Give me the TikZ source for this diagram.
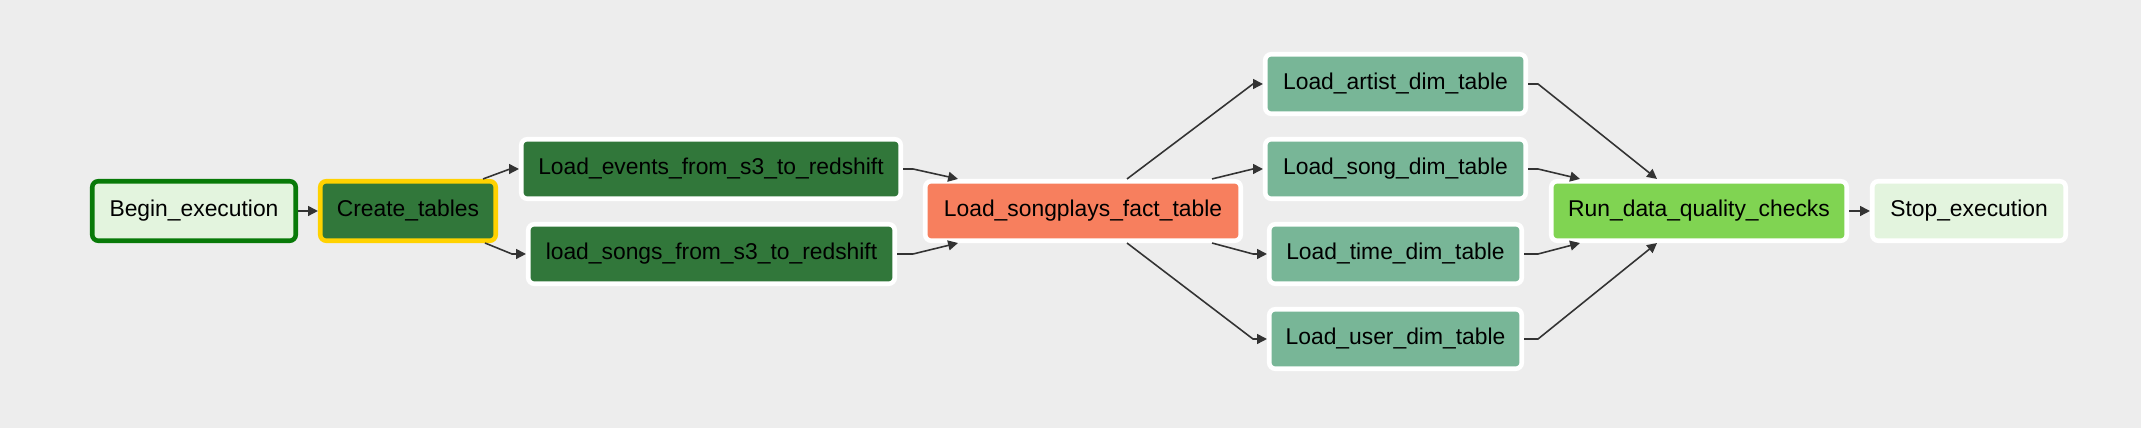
\documentclass[tikz,border=0pt]{standalone}
\usepackage{fontspec}
\setmainfont{Liberation Sans}
\usepackage{tikz}
\usetikzlibrary{arrows.meta, backgrounds}
\usepackage{xcolor}

\definecolor{bggray}{HTML}{EDEDED}
\definecolor{edgegray}{HTML}{333333}
\definecolor{dummyfill}{HTML}{E3F4DE}
\definecolor{successgreen}{HTML}{087A08}
\definecolor{runningyellow}{HTML}{FFD200}
\definecolor{stagefill}{HTML}{31773A}
\definecolor{factfill}{HTML}{F77F5E}
\definecolor{dimfill}{HTML}{78B697}
\definecolor{checkfill}{HTML}{80D452}

\begin{document}
\begin{tikzpicture}[font=\fontsize{6.5}{7.8}\selectfont]
    % Background
    \fill[bggray] (0, 0) rectangle (21.41, 4.28);
    \useasboundingbox (0, 0) rectangle (21.41, 4.28);

    % Define styles for boxes and arrows
    \tikzstyle{task} = [rectangle, rounded corners=0.06cm, minimum height=0.595cm, inner sep=0pt, text centered, draw=white, line width=1.3pt]
    \tikzstyle{arrow} = [draw=edgegray, line width=0.45pt, ->, >={Triangle[length=2.8pt, width=2.8pt]}]

    % boxes
    \node (begin) [task, fill=dummyfill, draw=successgreen, minimum width=2.035cm] at (1.94, 2.17) {Begin\_execution};
    \node (create) [task, fill=stagefill, draw=runningyellow, minimum width=1.755cm] at (4.08, 2.17) {Create\_tables};
    \node (events) [task, fill=stagefill, minimum width=3.795cm] at (7.11, 2.59) {Load\_events\_from\_s3\_to\_redshift};
    \node (songs) [task, fill=stagefill, minimum width=3.665cm] at (7.115, 1.74) {load\_songs\_from\_s3\_to\_redshift};
    \node (fact) [task, fill=factfill, minimum width=3.155cm] at (10.83, 2.17) {Load\_songplays\_fact\_table};
    \node (artist) [task, fill=dimfill, minimum width=2.605cm] at (13.955, 3.44) {Load\_artist\_dim\_table};
    \node (song) [task, fill=dimfill, minimum width=2.605cm] at (13.955, 2.59) {Load\_song\_dim\_table};
    \node (time) [task, fill=dimfill, minimum width=2.525cm] at (13.955, 1.74) {Load\_time\_dim\_table};
    \node (user) [task, fill=dimfill, minimum width=2.525cm] at (13.955, 0.89) {Load\_user\_dim\_table};
    \node (checks) [task, fill=checkfill, minimum width=2.955cm] at (16.99, 2.17) {Run\_data\_quality\_checks};
    \node (stop) [task, fill=dummyfill, minimum width=1.935cm] at (19.69, 2.17) {Stop\_execution};

    % Arrows
    \draw [arrow] (begin) -- (create);
    \draw [arrow] ([xshift=-0.15cm]create.north east) -- ([xshift=-0.09cm]events.west) -- (events.west);
    \draw [arrow] ([xshift=-0.13cm]create.south east) -- ([xshift=-0.14cm]songs.west) -- (songs.west);
    \draw [arrow] (events.east) -- ([xshift=0.1cm]events.east) -- ([xshift=0.35cm]fact.north west);
    \draw [arrow] (songs.east) -- ([xshift=0.16cm]songs.east) -- ([xshift=0.35cm]fact.south west);
    \draw [arrow] ([xshift=0.44cm]fact.north) -- ([xshift=-0.1cm]artist.west) -- (artist.west);
    \draw [arrow] ([xshift=-0.31cm]fact.north east) -- ([xshift=-0.1cm]song.west) -- (song.west);
    \draw [arrow] ([xshift=-0.31cm]fact.south east) -- ([xshift=-0.14cm]time.west) -- (time.west);
    \draw [arrow] ([xshift=0.44cm]fact.south) -- ([xshift=-0.14cm]user.west) -- (user.west);
    \draw [arrow] (artist.east) -- ([xshift=0.1cm]artist.east) -- ([xshift=-0.42cm]checks.north);
    \draw [arrow] (song.east) -- ([xshift=0.1cm]song.east) -- ([xshift=0.31cm]checks.north west);
    \draw [arrow] (time.east) -- ([xshift=0.14cm]time.east) -- ([xshift=0.31cm]checks.south west);
    \draw [arrow] (user.east) -- ([xshift=0.14cm]user.east) -- ([xshift=-0.42cm]checks.south);
    \draw [arrow] (checks) -- (stop);
\end{tikzpicture}
\end{document}
